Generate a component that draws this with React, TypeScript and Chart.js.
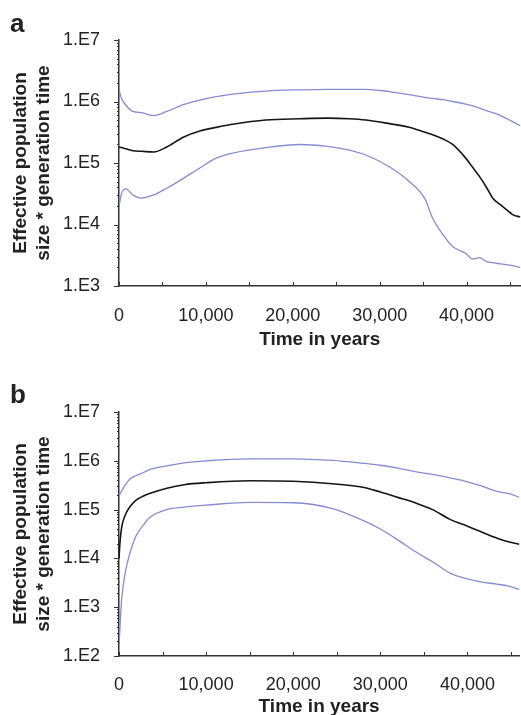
import React, { useEffect, useRef } from 'react';
import { Chart, registerables } from 'chart.js';

Chart.register(...registerables);

const FONT = "'Liberation Sans', Arial, Helvetica, sans-serif";
const BLUE = '#868bd2';
const BLACK = '#151515';
const AXIS = '#333333';
const TEXT = '#222222';

// ---------- Panel a ----------
const yearsA = [0, 300, 800, 1600, 2600, 4000, 5500, 7400, 9300, 11200, 13100, 16900, 20800, 24000, 26500, 28400, 31100, 33400, 35200, 36100, 37300, 38400, 39900, 40700, 41500, 42300, 43000, 43800, 44700, 45300, 46200];
const upperA = [1.55e6, 1.12e6, 8.7e5, 6.9e5, 6.6e5, 5.9e5, 6.9e5, 8.9e5, 1.05e6, 1.2e6, 1.32e6, 1.48e6, 1.55e6, 1.58e6, 1.58e6, 1.58e6, 1.45e6, 1.29e6, 1.17e6, 1.12e6, 1.07e6, 1.0e6, 9.1e5, 8.5e5, 7.8e5, 7.1e5, 6.6e5, 6.0e5, 5.2e5, 4.7e5, 4.0e5];
const meanA = [1.82e5, 1.78e5, 1.7e5, 1.58e5, 1.55e5, 1.51e5, 1.82e5, 2.63e5, 3.31e5, 3.8e5, 4.27e5, 5.01e5, 5.25e5, 5.37e5, 5.25e5, 5.01e5, 4.37e5, 3.8e5, 3.16e5, 2.88e5, 2.45e5, 2.0e5, 1.2e5, 8.5e4, 6.0e4, 4.0e4, 2.7e4, 2.14e4, 1.7e4, 1.45e4, 1.32e4];
const lowerA = [1.95e4, 3.24e4, 3.8e4, 3.02e4, 2.69e4, 3.02e4, 3.89e4, 5.62e4, 8.3e4, 1.2e5, 1.45e5, 1.78e5, 2.0e5, 1.86e5, 1.62e5, 1.35e5, 8.7e4, 5.0e4, 2.63e4, 1.26e4, 6.8e3, 4.4e3, 3.4e3, 2.75e3, 2.9e3, 2.5e3, 2.4e3, 2.3e3, 2.2e3, 2.15e3, 2.0e3];
const yTicksA = [1e3, 1e4, 1e5, 1e6, 1e7];
const xMaxA = 46200;

// ---------- Panel b ----------
const yearsB = [0, 100, 300, 700, 1300, 2000, 2800, 3500, 5500, 7500, 10000, 15000, 20000, 24500, 28000, 30000, 32000, 34000, 36000, 38000, 40000, 41500, 43500, 44700, 46000];
const upperB = [1.9e5, 2.1e5, 2.4e5, 3.16e5, 4.27e5, 5.0e5, 5.75e5, 6.6e5, 7.9e5, 9.1e5, 1.0e6, 1.1e6, 1.1e6, 1.02e6, 8.9e5, 8.1e5, 7.1e5, 6.0e5, 5.25e5, 4.47e5, 3.72e5, 3.09e5, 2.34e5, 2.14e5, 1.78e5];
const meanB = [1.0e4, 2.0e4, 4.27e4, 7.6e4, 1.17e5, 1.58e5, 1.9e5, 2.14e5, 2.75e5, 3.24e5, 3.55e5, 3.9e5, 3.8e5, 3.39e5, 2.88e5, 2.29e5, 1.78e5, 1.38e5, 1.0e5, 6.3e4, 4.57e4, 3.55e4, 2.57e4, 2.19e4, 1.95e4];
const lowerB = [166, 355, 1.41e3, 4.9e3, 1.38e4, 3.0e4, 4.8e4, 6.8e4, 1.0e5, 1.12e5, 1.23e5, 1.41e5, 1.38e5, 1.05e5, 6.0e4, 4.0e4, 2.4e4, 1.38e4, 8.5e3, 5.0e3, 3.8e3, 3.3e3, 2.95e3, 2.7e3, 2.3e3];
const yTicksB = [1e2, 1e3, 1e4, 1e5, 1e6, 1e7];
const xMaxB = 45950;

// ---------- shared ----------
const xTicks = [0, 5000, 10000, 15000, 20000, 25000, 30000, 35000, 40000, 45000];
const xLabelStep = 10000;
const yTitle = ['Effective population', 'size * generation time'];
const xTitle = 'Time in years';

const fmtThousands = (n: number) => String(Math.round(n)).replace(/\B(?=(\d{3})+(?!\d))/g, ',');

const axisTicksPlugin = {
  id: 'axisTicks',
  afterDraw(chart: any) {
    const { ctx } = chart;
    const xs = chart.scales.x;
    const ys = chart.scales.y;
    ctx.save();
    ctx.strokeStyle = AXIS;
    ctx.lineWidth = 1;
    ctx.beginPath();
    xs.ticks.forEach((t: any) => {
      const px = Math.round(xs.getPixelForValue(t.value)) + 0.5;
      ctx.moveTo(px, xs.top);
      ctx.lineTo(px, xs.top - 4);
    });
    const decades = ys.ticks.map((t: any) => t.value);
    decades.forEach((d: number, i: number) => {
      const py = Math.round(ys.getPixelForValue(d)) + 0.5;
      ctx.moveTo(ys.right, py);
      ctx.lineTo(ys.right - 5, py);
      if (i < decades.length - 1) {
        for (let k = 2; k <= 9; k++) {
          const pm = Math.round(ys.getPixelForValue(k * d)) + 0.5;
          ctx.moveTo(ys.right, pm);
          ctx.lineTo(ys.right - 2, pm);
        }
      }
    });
    ctx.stroke();
    ctx.restore();
  },
};

type PanelProps = {
  years: number[];
  upper: number[];
  mean: number[];
  lower: number[];
  yTicks: number[];
  xMax: number;
  top: number;
  height: number;
  padTop: number;
  xScaleH: number;
  xTitlePadBottom: number;
  tickPad: number;
};

function Panel(p: PanelProps) {
  const ref = useRef<HTMLCanvasElement>(null);
  useEffect(() => {
    const mk = (vals: number[]) => p.years.map((x, i) => ({ x, y: vals[i] }));
    const chart = new Chart(ref.current as HTMLCanvasElement, {
      type: 'line',
      data: {
        datasets: [
          { data: mk(p.upper), borderColor: BLUE, borderWidth: 1.3, pointRadius: 0, cubicInterpolationMode: 'monotone', fill: false },
          { data: mk(p.lower), borderColor: BLUE, borderWidth: 1.3, pointRadius: 0, cubicInterpolationMode: 'monotone', fill: false },
          { data: mk(p.mean), borderColor: BLACK, borderWidth: 1.6, pointRadius: 0, cubicInterpolationMode: 'monotone', fill: false },
        ],
      },
      options: {
        animation: false,
        responsive: false,
        maintainAspectRatio: false,
        events: [],
        layout: { padding: { top: p.padTop, left: 0, right: 0, bottom: 0 } },
        plugins: { legend: { display: false }, tooltip: { enabled: false } },
        scales: {
          x: {
            type: 'linear',
            min: 0,
            max: p.xMax,
            grid: { display: false },
            border: { display: true, color: AXIS, width: 1.5 },
            afterBuildTicks: (s: any) => {
              s.ticks = xTicks.map((v) => ({ value: v }));
            },
            afterFit: (s: any) => {
              s.height = p.xScaleH;
            },
            ticks: {
              autoSkip: false,
              maxRotation: 0,
              padding: p.tickPad,
              color: TEXT,
              font: { family: FONT, size: 18 },
              callback: (v: any) => (Number(v) % xLabelStep === 0 ? fmtThousands(Number(v)) : ''),
            },
            title: {
              display: true,
              text: xTitle,
              color: TEXT,
              font: { family: FONT, size: 19, weight: 'bold' },
              padding: { top: 0, bottom: p.xTitlePadBottom },
            },
          },
          y: {
            type: 'logarithmic',
            min: p.yTicks[0],
            max: p.yTicks[p.yTicks.length - 1],
            grid: { display: false },
            border: { display: true, color: AXIS, width: 1.5 },
            afterBuildTicks: (s: any) => {
              s.ticks = p.yTicks.map((v) => ({ value: v, major: true }));
            },
            afterFit: (s: any) => {
              s.width = 119;
            },
            ticks: {
              autoSkip: false,
              padding: 11,
              color: TEXT,
              font: { family: FONT, size: 18 },
              callback: (v: any) => '1.E' + Math.round(Math.log10(Number(v))),
            },
            title: {
              display: true,
              text: yTitle,
              color: TEXT,
              font: { family: FONT, size: 19, weight: 'bold', lineHeight: 1.23 },
              padding: { top: 9, bottom: 0 },
            },
          },
        },
      } as any,
      plugins: [axisTicksPlugin],
    });
    return () => chart.destroy();
  }, []);
  return (
    <canvas
      ref={ref}
      width={521}
      height={p.height}
      style={{ position: 'absolute', left: 0, top: p.top, width: 521, height: p.height }}
    />
  );
}

const letterStyle: React.CSSProperties = {
  position: 'absolute',
  left: 10,
  fontFamily: FONT,
  fontWeight: 'bold',
  fontSize: 26,
  lineHeight: 1,
  color: TEXT,
};

export default function App() {
  return (
    <div style={{ position: 'absolute', left: 0, top: 0, width: 521, height: 715, overflow: 'hidden', background: '#fff' }}>
      <Panel years={yearsA} upper={upperA} mean={meanA} lower={lowerA} yTicks={yTicksA} xMax={xMaxA}
        top={0} height={360} padTop={40} xScaleH={74} xTitlePadBottom={9} tickPad={11} />
      <Panel years={yearsB} upper={upperB} mean={meanB} lower={lowerB} yTicks={yTicksB} xMax={xMaxB}
        top={360} height={362} padTop={52} xScaleH={66} xTitlePadBottom={4} tickPad={10} />
      <div style={{ ...letterStyle, top: 10 }}>a</div>
      <div style={{ ...letterStyle, top: 381 }}>b</div>
    </div>
  );
}
